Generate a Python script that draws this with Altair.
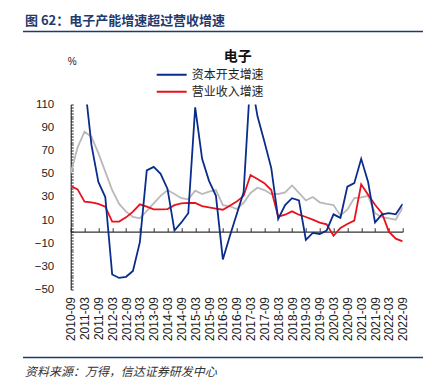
import altair as alt
import pandas as pd

quarters = [
    "2010-09", "2010-12", "2011-03", "2011-06", "2011-09", "2011-12",
    "2012-03", "2012-06", "2012-09", "2012-12", "2013-03", "2013-06",
    "2013-09", "2013-12", "2014-03", "2014-06", "2014-09", "2014-12",
    "2015-03", "2015-06", "2015-09", "2015-12", "2016-03", "2016-06",
    "2016-09", "2016-12", "2017-03", "2017-06", "2017-09", "2017-12",
    "2018-03", "2018-06", "2018-09", "2018-12", "2019-03", "2019-06",
    "2019-09", "2019-12", "2020-03", "2020-06", "2020-09", "2020-12",
    "2021-03", "2021-06", "2021-09", "2021-12", "2022-03", "2022-06",
    "2022-09",
]

capex = [180, 170, 130, 75, 43, 30, -37, -40, -39, -34, -9, 53, 56, 50, 37, 1,
         8, 16, 107.5, 63, 44, 31, -24, -4, 15, 34, 135, 100, 78, 55, 11, 23,
         29, 27, -7, -1, -2, 1, 15, 12, 39, 42, 63, 43, 8, 15, 16, 15, 24]

revenue = [39.5, 36.6, 26, 25.4, 24, 21.6, 8.7, 8.7, 12.4, 17.3, 23.6, 21.6,
           19.3, 19.3, 19.6, 23, 24.5, 25, 24.8, 22.2, 21, 20, 19, 22.5, 26,
           31, 49, 45.5, 42, 36, 13, 14.7, 17.6, 14.7, 12.7, 10.4, 7.8, 6.3,
           -3.5, 3.2, 6.6, 9.6, 41, 32, 23.3, 16, 0, -6, -8.4]

grey = [50.5, 73, 86.5, 82, 68, 52, 36, 24, 17.3, 12.7, 11.5, 18, 24.5, 31, 36,
        32.6, 29, 28, 35.5, 32.6, 34.6, 36, 23, 22, 19.6, 25, 33.5, 38, 36,
        32.6, 32.6, 34, 40, 33.5, 27, 30, 25.4, 24, 23, 14, 19, 29, 29.7, 31,
        16, 12.5, 11.5, 10.4, 21]

series_names = ["资本开支增速", "营业收入增速", "参考序列"]
series_colors = ["#0a2d8c", "#e8121c", "#b9b9b9"]

y_labels = [110, 90, 70, 50, 30, 10, -10, -30, -50]
y_minor = [-50 + 2.5 * k for k in range(65)]
x_labels = quarters[::2]

title_text = "图 62：电子产能增速超过营收增速"
chart_title = "电子"
unit_text = "%"
source_text = "资料来源：万得，信达证券研发中心"

W, H = 332, 185
ZERO_PX = H * 110 / 160

df = pd.DataFrame({
    "季度": quarters * 3,
    "系列": [series_names[2]] * len(quarters) + [series_names[1]] * len(quarters) + [series_names[0]] * len(quarters),
    "增速": grey + revenue + capex,
})

font_cjk = "Noto Sans CJK SC"
font_num = "Liberation Sans"

xscale = alt.Scale(type="point", padding=0)
yscale = alt.Scale(domain=[-50, 110], nice=False, zero=False)

lines = alt.Chart(df).mark_line(clip=True, strokeWidth=1.8).encode(
    x=alt.X("季度:N", sort=quarters, scale=xscale,
            axis=alt.Axis(orient="bottom", values=x_labels, labelAngle=270,
                          domain=False, ticks=False, title=None, labelPadding=7,
                          labelFontSize=12, labelFont=font_num, labelColor="#222",
                          grid=False)),
    y=alt.Y("增速:Q", scale=yscale,
            axis=alt.Axis(orient="left", values=y_labels, domain=True, domainColor="#111",
                          domainWidth=1, ticks=False, labelPadding=17, grid=False,
                          title=None, labelFontSize=11.5, labelFont=font_num,
                          labelColor="#222")),
    color=alt.Color("系列:N", scale=alt.Scale(domain=series_names, range=series_colors),
                    legend=alt.Legend(values=series_names[:2], orient="none",
                                      legendX=85, legendY=-38, title=None,
                                      symbolType="stroke", symbolSize=900,
                                      symbolStrokeWidth=2, clipHeight=16.5,
                                      rowPadding=0, labelOffset=4, labelFont=font_cjk,
                                      labelFontSize=12, labelColor="#222", padding=0)),
)

ticks_layer = alt.Chart(df).mark_line(opacity=0).encode(
    x=alt.X("季度:N", sort=quarters, scale=xscale,
            axis=alt.Axis(orient="top", offset=-ZERO_PX, values=x_labels, labels=False,
                          domain=True, domainColor="#333", domainWidth=1.2,
                          ticks=True, tickSize=4, tickColor="#333", title=None, grid=False)),
    y=alt.Y("增速:Q", scale=yscale,
            axis=alt.Axis(orient="right", offset=-W, values=y_minor, labels=False,
                          domain=False, ticks=True, tickSize=2.5, tickColor="#222",
                          title=None, grid=False)),
)

one = alt.Data(values=[{"k": 1}])
navy = "#1f3a6e"

title_mark = alt.Chart(one).mark_text(text=title_text, align="left", baseline="middle",
                                      font=font_cjk, fontSize=13, fontWeight="bold",
                                      color=navy).encode(x=alt.value(-45.7), y=alt.value(-84))
title_rule = alt.Chart(one).mark_rule(color=navy, strokeWidth=1.5).encode(
    x=alt.value(-47.7), x2=alt.value(352.3), y=alt.value(-73))
sub_mark = alt.Chart(one).mark_text(text=chart_title, align="center", baseline="middle",
                                    font=font_cjk, fontSize=14, fontWeight="bold",
                                    color="#111").encode(x=alt.value(167), y=alt.value(-47.5))
unit_mark = alt.Chart(one).mark_text(text=unit_text, align="center", baseline="middle",
                                     font=font_num, fontSize=10, color="#222").encode(
    x=alt.value(1.5), y=alt.value(-42.5))
foot_rule = alt.Chart(one).mark_rule(color=navy, strokeWidth=1.5).encode(
    x=alt.value(-47.7), x2=alt.value(352.3), y=alt.value(253))
foot_mark = alt.Chart(one).mark_text(text=source_text, align="left", baseline="middle",
                                     font=font_cjk, fontSize=12, fontStyle="italic",
                                     color="#333").encode(x=alt.value(-45.7), y=alt.value(267.5))

chart = alt.layer(
    ticks_layer, lines, title_mark, title_rule, sub_mark, unit_mark, foot_rule, foot_mark
).resolve_axis(x="independent", y="independent").properties(
    width=W, height=H,
    autosize=alt.AutoSizeParams(type="none"),
    padding={"left": 62.7, "top": 96.5, "right": 21, "bottom": 90.5},
    background="white",
).configure_view(stroke=None)

chart.save("out.html", embed_options={"renderer": "svg", "actions": False})
